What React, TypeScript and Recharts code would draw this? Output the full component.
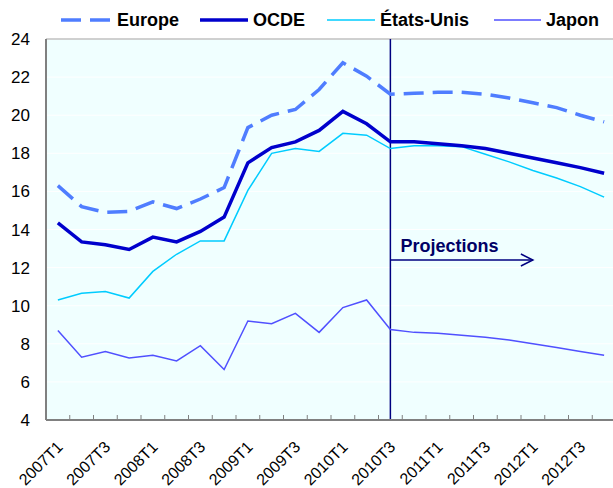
import { LineChart, Line, XAxis, YAxis, CartesianGrid, ReferenceLine } from 'recharts'

const QUARTERS = [
  '2007T1', '2007T2', '2007T3', '2007T4',
  '2008T1', '2008T2', '2008T3', '2008T4',
  '2009T1', '2009T2', '2009T3', '2009T4',
  '2010T1', '2010T2', '2010T3', '2010T4',
  '2011T1', '2011T2', '2011T3', '2011T4',
  '2012T1', '2012T2', '2012T3', '2012T4',
]

const EUROPE = [16.3, 15.2, 14.9, 14.95, 15.45, 15.1, 15.6, 16.2, 19.35, 20.0, 20.3, 21.35, 22.75, 22.05, 21.1, 21.15, 21.2, 21.2, 21.1, 20.9, 20.65, 20.4, 20.0, 19.65]
const OCDE = [14.35, 13.35, 13.2, 12.95, 13.6, 13.35, 13.9, 14.65, 17.5, 18.3, 18.6, 19.2, 20.2, 19.55, 18.6, 18.6, 18.5, 18.4, 18.25, 18.0, 17.75, 17.5, 17.25, 16.95]
const ETATS_UNIS = [10.3, 10.65, 10.75, 10.4, 11.8, 12.7, 13.4, 13.4, 16.05, 18.0, 18.25, 18.1, 19.05, 18.95, 18.25, 18.4, 18.4, 18.35, 17.95, 17.55, 17.1, 16.7, 16.25, 15.7]
const JAPON = [8.7, 7.3, 7.6, 7.25, 7.4, 7.1, 7.9, 6.65, 9.2, 9.05, 9.6, 8.6, 9.9, 10.3, 8.75, 8.6, 8.55, 8.45, 8.35, 8.2, 8.0, 7.8, 7.6, 7.4]

const Y_TICKS = [4, 6, 8, 10, 12, 14, 16, 18, 20, 22, 24]

const PROJ_START = '2010T3'
const PROJ_ARROW_END = '2012T1'
const PROJ_LEVEL = 12.4

const FONT = '"Liberation Sans", Arial, sans-serif'
const CHART_W = 616
const CHART_H = 488
const Y_AXIS_W = 46
const X_AXIS_H = 68
const PLOT_BOTTOM = CHART_H - X_AXIS_H
const STEP = (CHART_W - Y_AXIS_W) / QUARTERS.length

const data = QUARTERS.map((q, i) => ({
  q,
  europe: EUROPE[i],
  ocde: OCDE[i],
  eu: ETATS_UNIS[i],
  japon: JAPON[i],
}))

const LEGEND = [
  { name: 'Europe', color: '#4F7DFF', width: 3.5, dash: '20 9', left: 61, len: 51 },
  { name: 'OCDE', color: '#0000CC', width: 3.5, dash: undefined, left: 200, len: 48 },
  { name: 'États-Unis', color: '#00CCFF', width: 1.5, dash: undefined, left: 327, len: 48 },
  { name: 'Japon', color: '#5050FF', width: 1.5, dash: undefined, left: 494, len: 47 },
]

function QuarterTick(props: any) {
  const { x, payload, index } = props
  const bx = x - STEP / 2
  const lx = x + 6
  const ly = PLOT_BOTTOM + 28
  return (
    <g>
      <line x1={bx} y1={PLOT_BOTTOM} x2={bx} y2={PLOT_BOTTOM - 5} stroke="#808080" />
      {index % 2 === 0 && (
        <text
          x={lx}
          y={ly}
          transform={`rotate(-45 ${lx} ${ly})`}
          textAnchor="end"
          fontSize={16}
          fontFamily={FONT}
          fill="#000"
        >
          {payload.value}
        </text>
      )}
    </g>
  )
}

function ProjectionArrow(props: any) {
  const { x1, y1, x2, y2 } = props
  return (
    <g>
      <line x1={x1} y1={y1} x2={x2} y2={y2} stroke="#000080" strokeWidth={1.5} />
      <polyline
        points={`${x2 - 12},${y2 - 6} ${x2},${y2} ${x2 - 12},${y2 + 6}`}
        fill="none"
        stroke="#000080"
        strokeWidth={1.5}
      />
      <text x={x1 + 10} y={y1 - 8} fontSize={18} fontWeight="bold" fontFamily={FONT} fill="#000066">
        Projections
      </text>
    </g>
  )
}

export default function App() {
  return (
    <div
      style={{
        position: 'fixed',
        top: 0,
        left: 0,
        width: 613,
        height: 488,
        overflow: 'hidden',
        background: '#fff',
        fontFamily: FONT,
      }}
    >
      {LEGEND.map((item) => (
        <div
          key={item.name}
          style={{
            position: 'absolute',
            top: 9,
            left: item.left,
            height: 22,
            display: 'flex',
            alignItems: 'center',
            whiteSpace: 'nowrap',
          }}
        >
          <svg width={item.len} height={10} style={{ marginRight: 5 }}>
            <line
              x1={0}
              y1={5}
              x2={item.len}
              y2={5}
              stroke={item.color}
              strokeWidth={item.width}
              strokeDasharray={item.dash}
            />
          </svg>
          <span style={{ fontSize: 18, fontWeight: 'bold', color: '#000' }}>{item.name}</span>
        </div>
      ))}
      <LineChart
        width={CHART_W}
        height={CHART_H}
        data={data}
        margin={{ top: 39, right: 0, bottom: 0, left: 0 }}
        style={{ position: 'absolute', top: 0, left: 0 }}
      >
        <CartesianGrid vertical={false} stroke="#FFFFFF" fill="#F0FFFF" />
        <XAxis
          dataKey="q"
          interval={0}
          height={X_AXIS_H}
          padding={{ left: STEP / 2, right: STEP / 2 }}
          axisLine={{ stroke: '#808080', strokeWidth: 2 }}
          tickLine={false}
          tickSize={0}
          tickMargin={0}
          tick={<QuarterTick />}
        />
        <YAxis
          domain={[4, 24]}
          ticks={Y_TICKS}
          width={Y_AXIS_W}
          axisLine={{ stroke: '#808080', strokeWidth: 2 }}
          tickLine={false}
          tickMargin={10}
          tick={{ fontSize: 17, fill: '#000', fontFamily: FONT }}
        />
        <ReferenceLine y={24} stroke="#C0C0C0" strokeWidth={1.5} />
        <ReferenceLine x={PROJ_START} stroke="#000080" strokeWidth={1.5} />
        <ReferenceLine
          segment={[
            { x: PROJ_START, y: PROJ_LEVEL },
            { x: PROJ_ARROW_END, y: PROJ_LEVEL },
          ]}
          shape={<ProjectionArrow />}
        />
        <Line dataKey="eu" stroke="#00CCFF" strokeWidth={1.5} dot={false} isAnimationActive={false} />
        <Line dataKey="japon" stroke="#5050FF" strokeWidth={1.5} dot={false} isAnimationActive={false} />
        <Line dataKey="ocde" stroke="#0000CC" strokeWidth={3.5} dot={false} isAnimationActive={false} />
        <Line
          dataKey="europe"
          stroke="#4F7DFF"
          strokeWidth={3.5}
          strokeDasharray="20 9"
          dot={false}
          isAnimationActive={false}
        />
      </LineChart>
    </div>
  )
}
